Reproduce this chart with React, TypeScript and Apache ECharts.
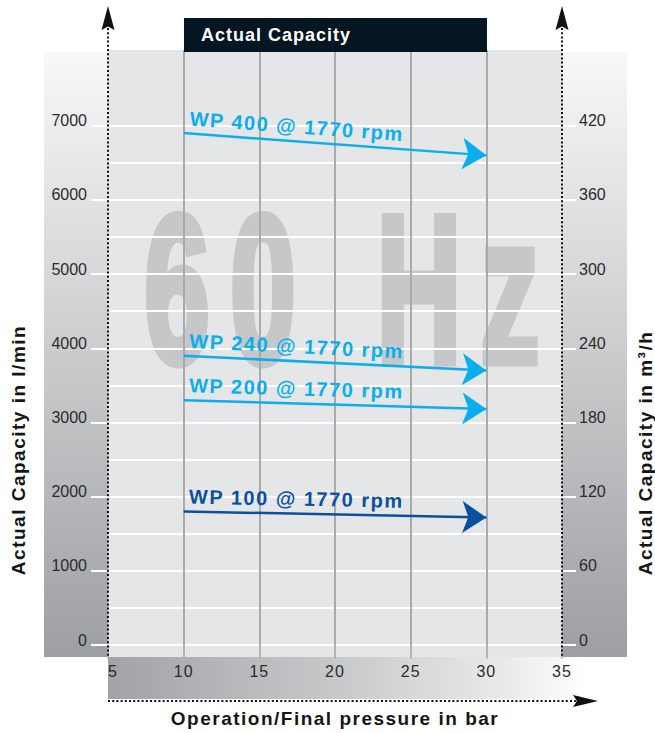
import React, { useEffect, useRef } from 'react';
import * as echarts from 'echarts';

// ---- data ----
const pressureTicks = [5, 10, 15, 20, 25, 30, 35];
const capacityLminTicks = [0, 1000, 2000, 3000, 4000, 5000, 6000, 7000];
const capacityM3hTicks = [0, 60, 120, 180, 240, 300, 360, 420];
const pumpModels = ['WP 400', 'WP 240', 'WP 200', 'WP 100'];
const pumpSpeed = '1770 rpm';
const startPressure = [10, 10, 10, 10];
const endPressure = [30, 30, 30, 30];
const startCapacity = [6900, 3900, 3300, 1800];
const endCapacity = [6600, 3700, 3180, 1720];
const chartTitle = 'Actual Capacity';
const xTitle = 'Operation/Final pressure in bar';
const yLeftTitle = 'Actual Capacity in l/min';
const yRightTitle = 'Actual Capacity in m³/h';
const watermarkChars = ['6', '0', 'H', 'z'];

const LIGHT_BLUE = '#0aaeef';
const DARK_BLUE = '#0a50a0';
const lineColors = [LIGHT_BLUE, LIGHT_BLUE, LIGHT_BLUE, DARK_BLUE];

const SPACED_FONT = "'Liberation Sans', 'Nimbus Sans Narrow', Arial, sans-serif";
const TITLE_FONT = "'Liberation Sans', 'Helvetica Condensed', Arial, sans-serif";
const XNUM_FONT = "'Liberation Sans', 'Arial Narrow', Arial, sans-serif";
const NUM_FONT = "'Liberation Sans', Arial, sans-serif";
const MARK_FONT = "'Liberation Sans', Arial, sans-serif";

const css = `
text[style*="Nimbus"] { letter-spacing: 1.5px; }
text[style*="Helvetica Condensed"] { letter-spacing: 1px; }
text[style*="Arial Narrow"] { letter-spacing: 1px; }
`;

export default function App() {
  const ref = useRef<HTMLDivElement>(null);
  useEffect(() => {
    if (!ref.current) return;
    const chart = echarts.init(ref.current, undefined, { renderer: 'svg' });

    const pMin = pressureTicks[0];
    const pMax = pressureTicks[pressureTicks.length - 1];
    const pInt = pressureTicks[1] - pressureTicks[0];
    const lMax = capacityLminTicks[capacityLminTicks.length - 1];
    const lInt = capacityLminTicks[1] - capacityLminTicks[0];
    const mMax = capacityM3hTicks[capacityM3hTicks.length - 1];
    const mInt = capacityM3hTicks[1] - capacityM3hTicks[0];

    const yLabel = {
      color: '#2b2b2b', fontSize: 16, fontFamily: NUM_FONT,
      verticalAlign: 'bottom', lineHeight: 10,
      formatter: (v: number) => String(v),
    };
    const vSplit = {
      show: true,
      showMinLine: false,
      showMaxLine: false,
      lineStyle: { color: '#a9aaac', width: 2 },
    };
    const sidePanelFill = {
      type: 'linear', x: 0, y: 0, x2: 0, y2: 1,
      colorStops: [
        { offset: 0, color: '#f8f8f8' },
        { offset: 1, color: '#9e9fa3' },
      ],
    };
    const dotted = { stroke: '#111', lineWidth: 2, lineDash: [2, 2.2] };

    const option: any = {
      animation: false,
      grid: [
        { left: 108, right: 93, top: 125.7, bottom: 77.7 },
        { left: 108, right: 93, top: 50, height: 75.7 },
      ],
      xAxis: [
        {
          gridIndex: 0, type: 'value', min: pMin, max: pMax, interval: pInt,
          axisLine: { show: false },
          axisTick: { show: true, length: 13.5, lineStyle: { color: '#b3b4b6', width: 2 } },
          axisLabel: {
            color: '#2b2b2b', fontSize: 16, fontFamily: XNUM_FONT, margin: 18,
            alignMinLabel: 'left', formatter: (v: number) => String(v),
          },
          splitLine: vSplit,
          name: xTitle, nameLocation: 'middle', nameGap: 64,
          nameTextStyle: { color: '#151515', fontSize: 19, fontWeight: 'bold', fontFamily: SPACED_FONT },
        },
        {
          gridIndex: 1, type: 'value', min: pMin, max: pMax, interval: pInt,
          axisLine: { show: false }, axisTick: { show: false }, axisLabel: { show: false },
          splitLine: vSplit,
        },
      ],
      yAxis: [
        {
          gridIndex: 0, type: 'value', min: 0, max: lMax, interval: lInt, position: 'left',
          axisLine: { show: false },
          axisTick: { show: true, length: 17, lineStyle: { color: '#ffffff', width: 2 } },
          axisLabel: { ...yLabel, margin: 21 },
          splitLine: { show: true, lineStyle: { color: '#ffffff', width: 2 } },
          minorTick: { show: false, splitNumber: 2 },
          minorSplitLine: { show: true, lineStyle: { color: '#ffffff', width: 2 } },
        },
        {
          gridIndex: 0, type: 'value', min: 0, max: mMax, interval: mInt, position: 'right',
          axisLine: { show: false },
          axisTick: { show: true, length: 14, lineStyle: { color: '#ffffff', width: 2 } },
          axisLabel: { ...yLabel, margin: 17 },
          splitLine: { show: false },
        },
        { gridIndex: 1, type: 'value', min: 0, max: 1, show: false },
      ],
      series: [
        {
          type: 'lines',
          coordinateSystem: 'cartesian2d',
          xAxisIndex: 0,
          yAxisIndex: 0,
          clip: false,
          z: 5,
          symbol: ['none', 'arrow'],
          symbolSize: [13, 24],
          lineStyle: { width: 2.5, opacity: 1, curveness: 0 },
          label: {
            show: true,
            position: 'insideStartTop',
            distance: 5,
            formatter: (p: any) => p.name,
            fontFamily: SPACED_FONT,
            fontWeight: 'bold',
            fontSize: 20,
          },
          data: pumpModels.map((m, i) => ({
            name: `${m} @ ${pumpSpeed}`,
            coords: [
              [startPressure[i], startCapacity[i]],
              [endPressure[i], endCapacity[i]],
            ],
            lineStyle: { color: lineColors[i] },
            label: { color: lineColors[i] },
          })),
        },
      ],
      graphic: [
        // side panels
        { type: 'rect', z: -30, shape: { x: 44, y: 52, width: 64, height: 605 }, style: { fill: sidePanelFill } },
        { type: 'rect', z: -30, shape: { x: 562, y: 52, width: 65, height: 605 }, style: { fill: sidePanelFill } },
        // plot background
        { type: 'rect', z: -30, shape: { x: 108, y: 50, width: 454, height: 607 }, style: { fill: '#e5e6e8' } },
        // bottom band
        {
          type: 'rect', z: -30, shape: { x: 108, y: 657, width: 478, height: 42 },
          style: {
            fill: {
              type: 'linear', x: 0, y: 0, x2: 1, y2: 0,
              colorStops: [
                { offset: 0, color: '#a2a3a6' },
                { offset: 0.5, color: '#c9cacc' },
                { offset: 0.85, color: '#ececec' },
                { offset: 1, color: '#ffffff' },
              ],
            },
          },
        },
        // watermark
        ...watermarkChars.map((ch, i) => ({
          type: 'text', z: -20,
          x: [177, 263, 419, 510][i], y: 289,
          scaleX: 0.56,
          style: {
            text: ch, fill: '#c6c7c9', stroke: '#c6c7c9', lineWidth: 9,
            fontSize: 210, fontWeight: 'bold', fontFamily: MARK_FONT,
            textAlign: 'center', textVerticalAlign: 'middle',
          },
        })),
        // title box
        { type: 'rect', z: 20, shape: { x: 184, y: 18, width: 303, height: 34 }, style: { fill: '#031621' } },
        {
          type: 'text', z: 21, x: 201, y: 35,
          style: {
            text: chartTitle, fill: '#ffffff', fontSize: 18, fontWeight: 'bold', fontFamily: TITLE_FONT,
            textAlign: 'left', textVerticalAlign: 'middle',
          },
        },
        // dotted axes with arrows
        { type: 'line', z: 20, shape: { x1: 108, y1: 28, x2: 108, y2: 657 }, style: dotted },
        { type: 'line', z: 20, shape: { x1: 562, y1: 28, x2: 562, y2: 657 }, style: dotted },
        { type: 'line', z: 20, shape: { x1: 108, y1: 701, x2: 578, y2: 701 }, style: dotted },
        { type: 'polygon', z: 21, shape: { points: [[108, 6], [101.5, 30], [108, 26.5], [114.5, 30]] }, style: { fill: '#111' } },
        { type: 'polygon', z: 21, shape: { points: [[562, 6], [555.5, 30], [562, 26.5], [568.5, 30]] }, style: { fill: '#111' } },
        { type: 'polygon', z: 21, shape: { points: [[598, 701], [573, 695], [577, 701], [573, 707]] }, style: { fill: '#111' } },
        // side titles
        {
          type: 'text', z: 20, x: 18, y: 450, rotation: Math.PI / 2,
          style: {
            text: yLeftTitle, fill: '#151515', fontSize: 19, fontWeight: 'bold', fontFamily: SPACED_FONT,
            textAlign: 'center', textVerticalAlign: 'middle',
          },
        },
        {
          type: 'text', z: 20, x: 645, y: 453, rotation: Math.PI / 2,
          style: {
            text: yRightTitle, fill: '#151515', fontSize: 19, fontWeight: 'bold', fontFamily: SPACED_FONT,
            textAlign: 'center', textVerticalAlign: 'middle',
          },
        },
      ],
    };

    chart.setOption(option);
    return () => chart.dispose();
  }, []);

  return (
    <>
      <style>{css}</style>
      <div
        ref={ref}
        style={{ position: 'fixed', left: 0, top: 0, width: 655, height: 733, background: '#ffffff' }}
      />
    </>
  );
}
